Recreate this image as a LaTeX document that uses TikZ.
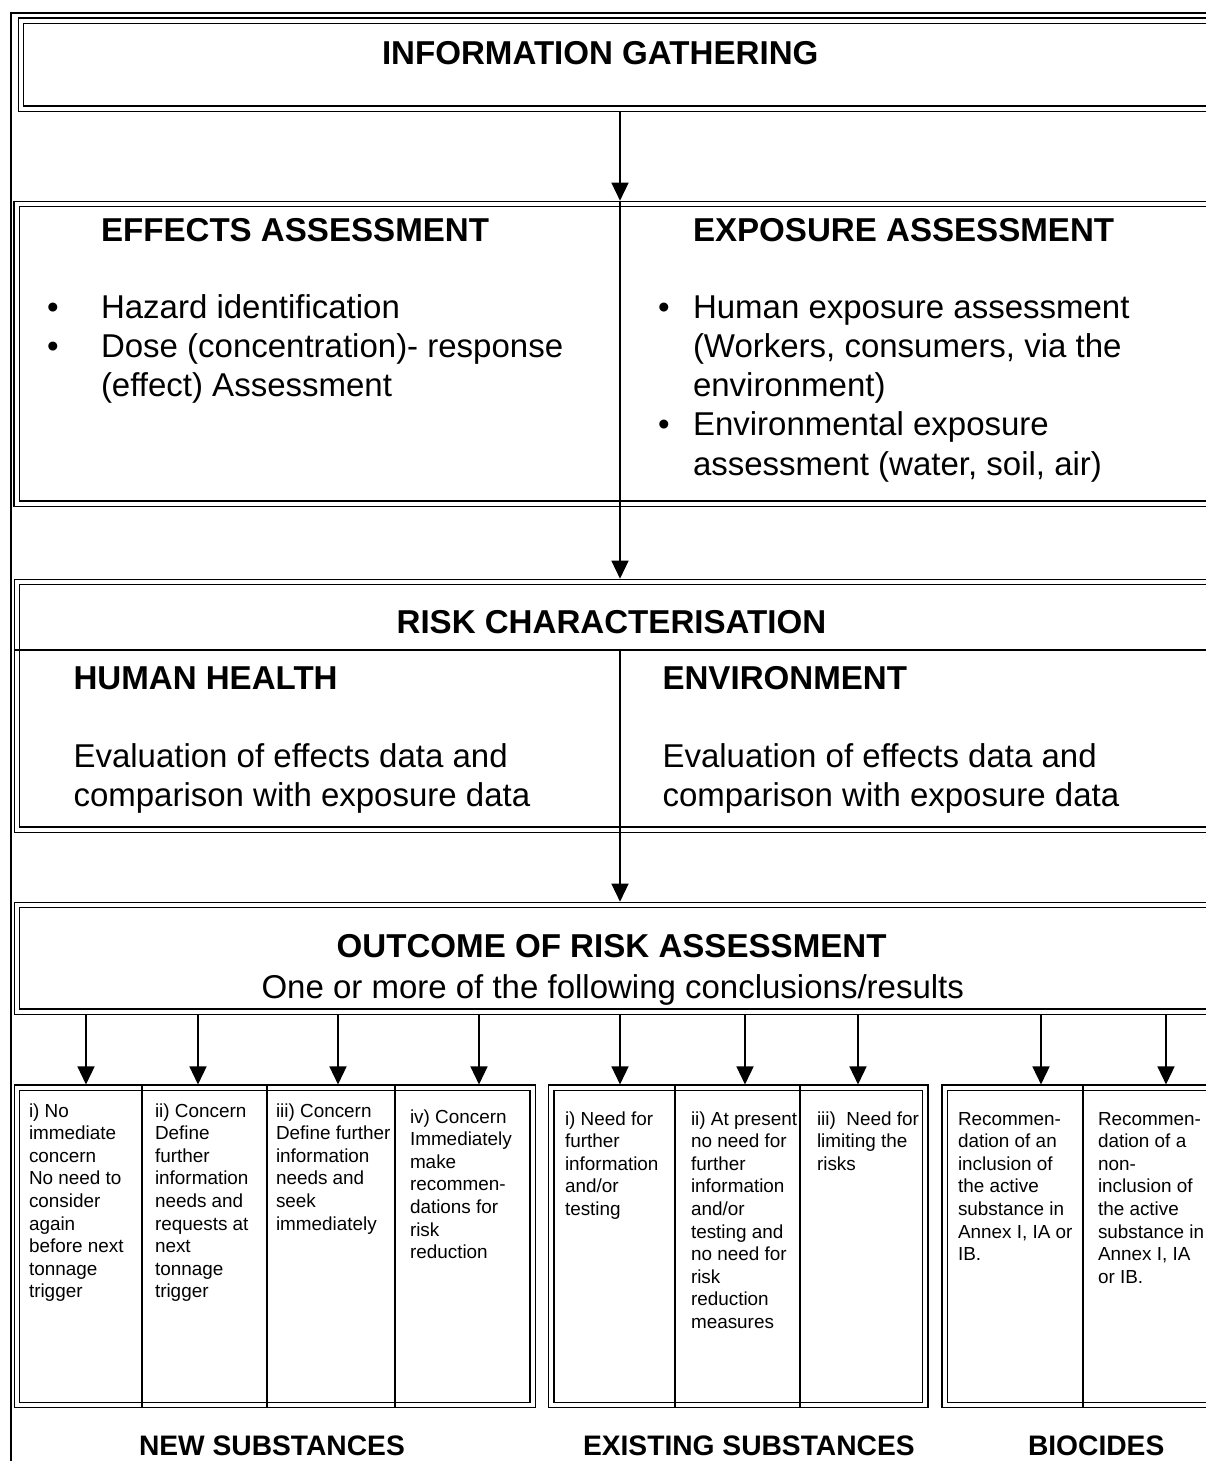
\documentclass[tikz,border=0pt]{standalone}
\usepackage{fontspec}
\setmainfont{Liberation Sans}
\usetikzlibrary{arrows.meta}
\newcommand{\lns}[1]{\begin{tabular}[t]{@{}l@{}}#1\end{tabular}}
\begin{document}
\begin{tikzpicture}[x=1pt,y=-1pt,
  ln/.style={line width=1.3pt, draw=black},
  dbox/.style={draw=black, line width=1.3pt, double=white, double distance=4pt, inner sep=0pt, outer sep=0pt, anchor=north west, rectangle},
  arr/.style={line width=1.4pt, -{Triangle[width=17pt,length=18pt]}},
  txt/.style={inner sep=0pt, outer sep=0pt, anchor=base west, text=black},
  hb/.style={txt, font=\fontsize{33.1}{39.3}\selectfont\bfseries},
  hr/.style={txt, font=\fontsize{33}{39.3}\selectfont},
  sm/.style={txt, font=\fontsize{18.9}{22.6}\selectfont},
  lab/.style={txt, font=\fontsize{28.2}{33}\selectfont\bfseries},
]
\useasboundingbox (0,0) rectangle (1206,1461);
\clip (0,0) rectangle (1206,1461);

% outer frame
\node[draw=black, line width=1.4pt, inner sep=0pt, outer sep=0pt, anchor=north west,
      minimum width=1400pt, minimum height=1600pt] (frame) at (11,13) {};

% boxes
\node[dbox, minimum width=1219pt, minimum height=88pt] (info) at (21,20.75) {};
\node[dbox, minimum width=1225pt, minimum height=299.5pt] (eff) at (16.75,204) {};
\node[dbox, minimum width=1225pt, minimum height=247.5pt] (risk) at (17,582) {};
\node[dbox, minimum width=1225pt, minimum height=106.5pt] (out) at (17,905) {};
\node[dbox, minimum width=515.5pt, minimum height=317.25pt] (g1) at (17,1087.75) {};
\node[dbox, minimum width=374pt, minimum height=317.25pt] (g2) at (551.25,1087.75) {};
\node[dbox, minimum width=300pt, minimum height=317.25pt] (g3) at (944.5,1087.75) {};

% main vertical connectors and dividers
\coordinate (cm) at (620,0);
\coordinate (rowy) at (0,650);
\draw[arr] ([yshift=-3.3pt]info.south -| cm) -- ([yshift=3.3pt]eff.north -| cm);
\draw[ln] ([yshift=3.3pt]eff.north -| cm) -- ([yshift=-3.3pt]eff.south -| cm);
\draw[arr] ([yshift=-3.3pt]eff.south -| cm) -- ([yshift=3.3pt]risk.north -| cm);
\draw[ln] ([xshift=-3.3pt]risk.west |- rowy) -- ([xshift=3.3pt]risk.east |- rowy);
\draw[ln] (cm |- rowy) -- ([yshift=-3.3pt]risk.south -| cm);
\draw[arr] ([yshift=-3.3pt]risk.south -| cm) -- ([yshift=3.3pt]out.north -| cm);

% arrows to outcome columns
\foreach \xpos/\gname in {86/g1,198/g1,338/g1,479/g1,620/g2,745/g2,858/g2,1041/g3,1166/g3}{
  \coordinate (ax) at (\xpos,0);
  \draw[arr] ([yshift=-3.3pt]out.south -| ax) -- ([yshift=3.3pt]\gname.north -| ax);
}
% column dividers
\foreach \xpos/\gname in {142/g1,267/g1,395/g1,675/g2,800/g2,1083/g3}{
  \coordinate (dx) at (\xpos,0);
  \draw[ln] ([yshift=3.3pt]\gname.north -| dx) -- ([yshift=-3.3pt]\gname.south -| dx);
}

% texts
\node[hb] (tinfo) at (382,65) {INFORMATION GATHERING};
\node[hb] (teff) at (101,241) {EFFECTS ASSESSMENT};
\node[hb] (texp) at (693,241) {EXPOSURE ASSESSMENT};
\node[hr] (b1) at (47,318) {•};
\node[hr] (b2) at (47,357.3) {•};
\node[hr] (leff) at (101,318) {\lns{Hazard identification\\Dose (concentration)- response\\(effect) Assessment}};
\node[hr] (b3) at (658,318) {•};
\node[hr] (b4) at (658,435.9) {•};
\node[hr] (lexp) at (693,318) {\lns{Human exposure assessment\\(Workers, consumers, via the\\environment)\\Environmental exposure\\assessment (water, soil, air)}};

\node[hb] (trisk) at (396.6,633) {RISK CHARACTERISATION};
\node[hb] (thh) at (73.5,689) {HUMAN HEALTH};
\node[hb] (tenv) at (662.5,689) {ENVIRONMENT};
\node[hr] (lhh) at (73.5,767) {\lns{Evaluation of effects data and\\comparison with exposure data}};
\node[hr] (lenv) at (662.5,767) {\lns{Evaluation of effects data and\\comparison with exposure data}};

\node[hb] (tout) at (336.7,957) {OUTCOME OF RISK ASSESSMENT};
\node[hr] (tout2) at (261.5,998) {One or more of the following conclusions/results};

\node[sm] (n1) at (29,1117) {\lns{i) No\\immediate\\concern\\No need to\\consider\\again\\before next\\tonnage\\trigger}};
\node[sm] (n2) at (155,1117) {\lns{ii) Concern\\Define\\further\\information\\needs and\\requests at\\next\\tonnage\\trigger}};
\node[sm] (n3) at (276,1117) {\lns{iii) Concern\\Define further\\information\\needs and\\seek\\immediately}};
\node[sm] (n4) at (410,1123) {\lns{iv) Concern\\Immediately\\make\\recommen-\\dations for\\risk\\reduction}};

\node[sm] (e1) at (565,1125) {\lns{i) Need for\\further\\information\\and/or\\testing}};
\node[sm] (e2) at (691,1125) {\lns{ii) At present\\no need for\\further\\information\\and/or\\testing and\\no need for\\risk\\reduction\\measures}};
\node[sm] (e3) at (817,1125) {\lns{iii)\ \ Need for\\limiting the\\risks}};

\node[sm] (c1) at (958,1125) {\lns{Recommen-\\dation of an\\inclusion of\\the active\\substance in\\Annex I, IA or\\IB.}};
\node[sm] (c2) at (1098,1125) {\lns{Recommen-\\dation of a\\non-\\inclusion of\\the active\\substance in\\Annex I, IA\\or IB.}};

\node[lab] (lnew) at (139,1455) {NEW SUBSTANCES};
\node[lab] (lexi) at (583,1455) {EXISTING SUBSTANCES};
\node[lab] (lbio) at (1028,1455) {BIOCIDES};
\end{tikzpicture}
\end{document}
